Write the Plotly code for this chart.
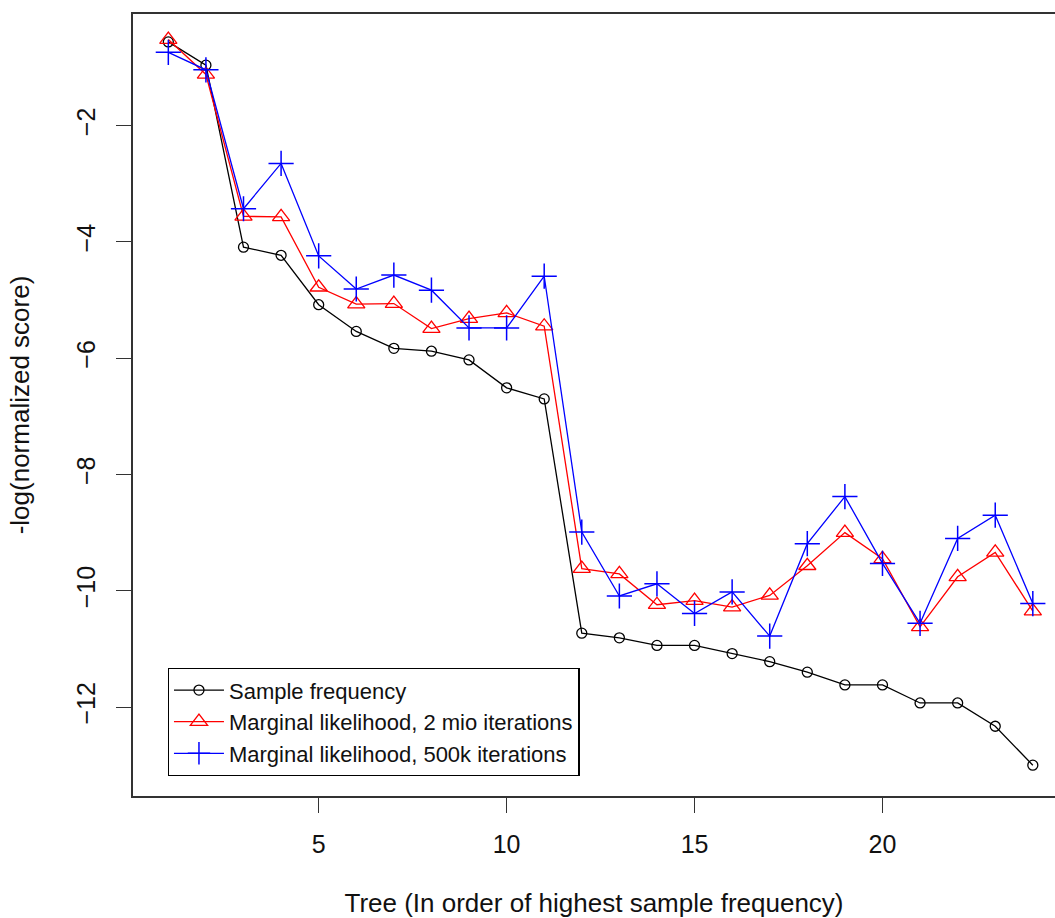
import plotly.graph_objects as go

trees = list(range(1, 25))

sample_frequency = [-0.56, -0.96, -4.09, -4.23, -5.08, -5.54, -5.83, -5.88, -6.03, -6.51, -6.70,
                    -10.73, -10.81, -10.94, -10.94, -11.08, -11.22, -11.40, -11.62, -11.62,
                    -11.93, -11.93, -12.33, -13.00]
ml_2mio = [-0.52, -1.12, -3.56, -3.57, -4.78, -5.07, -5.06, -5.49, -5.32, -5.22, -5.45,
           -9.62, -9.71, -10.24, -10.17, -10.28, -10.08, -9.57, -9.00, -9.45,
           -10.62, -9.76, -9.34, -10.35]
ml_500k = [-0.74, -1.04, -3.43, -2.65, -4.24, -4.81, -4.57, -4.83, -5.48, -5.48, -4.59,
           -8.99, -10.09, -9.88, -10.39, -10.02, -10.78, -9.19, -8.38, -9.53,
           -10.56, -9.10, -8.70, -10.22]

series_names = ["Sample frequency",
                "Marginal likelihood, 2 mio iterations",
                "Marginal likelihood, 500k iterations"]
x_ticks = [5, 10, 15, 20]
y_ticks = [-2, -4, -6, -8, -10, -12]

FONT = "Liberation Sans, Arial, sans-serif"

fig = go.Figure()
fig.add_trace(go.Scatter(
    x=trees, y=sample_frequency, name=series_names[0], mode="lines+markers",
    line=dict(color="black", width=1.3),
    marker=dict(symbol="circle-open", size=10, color="black", line=dict(width=1.3, color="black")),
))
fig.add_trace(go.Scatter(
    x=trees, y=ml_2mio, name=series_names[1], mode="lines+markers",
    line=dict(color="#ff0000", width=1.3),
    marker=dict(symbol="triangle-up-open", size=15, color="#ff0000", line=dict(width=1.3, color="#ff0000")),
))
fig.add_trace(go.Scatter(
    x=trees, y=ml_500k, name=series_names[2], mode="lines+markers",
    line=dict(color="#0000ff", width=1.3),
    marker=dict(symbol="cross-thin-open", size=18, color="#0000ff", line=dict(width=1.5, color="#0000ff")),
))

axis_common = dict(
    showgrid=False, zeroline=False, showline=True, linecolor="#333", linewidth=2,
    ticks="outside", ticklen=15, tickwidth=1.3, tickcolor="#333",
    tickfont=dict(family=FONT, size=25, color="#111"),
)

fig.update_layout(
    width=1055, height=918,
    margin=dict(l=133, r=0, t=14, b=122),
    paper_bgcolor="white", plot_bgcolor="white",
    font=dict(family=FONT, color="#111"),
    xaxis=dict(
        **axis_common, range=[0.06, 24.59], tickvals=x_ticks, mirror=True,
        ticklabelstandoff=10,
        title=dict(text="Tree (In order of highest sample frequency)",
                   font=dict(family=FONT, size=26, color="#111"), standoff=38),
    ),
    yaxis=dict(
        **axis_common, range=[-13.53, -0.08], tickvals=y_ticks, tickangle=-90,
        ticklabelstandoff=11,
        title=dict(text="-log(normalized score)",
                   font=dict(family=FONT, size=26, color="#111"), standoff=35),
    ),
    legend=dict(
        x=0.0376, y=0.0256, xanchor="left", yanchor="bottom",
        bordercolor="black", borderwidth=1.3, bgcolor="white",
        font=dict(family=FONT, size=22, color="#111"),
        tracegroupgap=0, itemwidth=50,
    ),
    showlegend=True,
)

fig.write_html("out.html")
